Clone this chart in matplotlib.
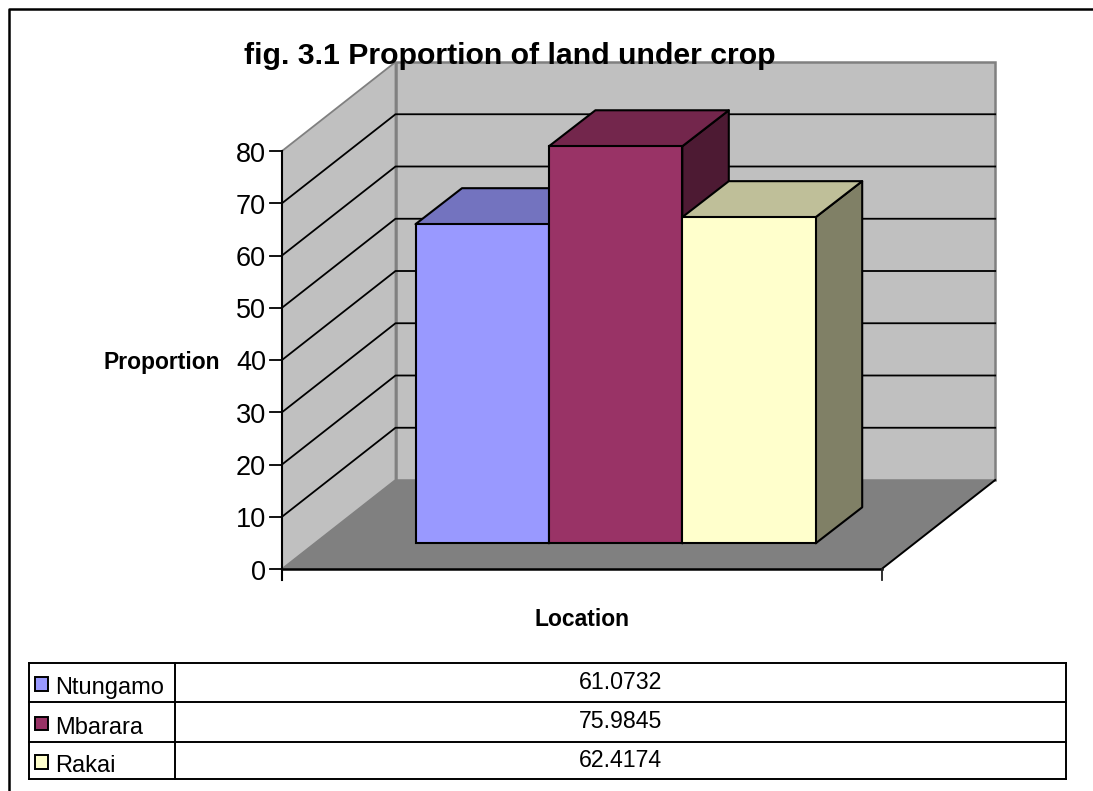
import matplotlib
matplotlib.use('Agg')
import matplotlib.pyplot as plt
from matplotlib.patches import Polygon, Rectangle

locations = ['Ntungamo', 'Mbarara', 'Rakai']
values = [61.0732, 75.9845, 62.4174]
value_labels = ['61.0732', '75.9845', '62.4174']
yticks = [0, 10, 20, 30, 40, 50, 60, 70, 80]

front_colors = ['#9999FF', '#993366', '#FFFFCC']
top_colors = ['#7373BF', '#73264C', '#BFBF99']
side_colors = ['#4D4D80', '#4D1A33', '#808066']

W, H = 1093, 791
Y0_PX = 569.0      # pixel row of value 0 on the front wall edge
PX_PER_UNIT = 5.225

plt.rcParams['font.family'] = ['Liberation Sans', 'DejaVu Sans']

fig = plt.figure(figsize=(W / 100, H / 100), dpi=100)
ax = fig.add_axes([0, 0, 1, 1])
ax.set_xlim(0, W)
ax.set_ylim((Y0_PX - H) / PX_PER_UNIT, Y0_PX / PX_PER_UNIT)
ax.axis('off')


def u(dy_px):
    # pixel distance to value units
    return dy_px / PX_PER_UNIT


def py(row):
    # pixel row to value units
    return (Y0_PX - row) / PX_PER_UNIT


# outer chart frame, only top and left fall inside the picture
ax.plot([9, 9, W + 5], [py(H + 5), py(8.5), py(8.5)], color='black', lw=1.8, zorder=1)

# 3d box
x0, x1 = 282, 881.7
depth_x, depth_y = 113.5, u(89)
ymax = yticks[-1]
gray_wall = '#C0C0C0'
gray_floor = '#808080'

ax.add_patch(Polygon([(x0, 0), (x0 + depth_x, depth_y), (x0 + depth_x, ymax + depth_y), (x0, ymax)],
                     fc=gray_wall, ec=gray_floor, lw=1.3, zorder=2))
ax.add_patch(Rectangle((x0 + depth_x, depth_y), x1 - x0, ymax, fc=gray_wall, ec=gray_floor, lw=1.8, zorder=2))
ax.add_patch(Polygon([(x0, 0), (x1, 0), (x1 + depth_x, depth_y), (x0 + depth_x, depth_y)],
                     fc=gray_floor, ec='none', zorder=3))

# gridlines on both walls
for t in yticks[1:-1]:
    ax.plot([x0, x0 + depth_x, x1 + depth_x], [t, t + depth_y, t + depth_y], color='black', lw=1.3, zorder=4)

# floor edges and axes
ax.plot([x1, x1 + depth_x], [0, depth_y], color='black', lw=1.4, zorder=5)
ax.plot([x0, x1], [0, 0], color='black', lw=1.8, zorder=5)
ax.plot([x0, x0], [py(580), ymax], color='black', lw=1.5, zorder=5)
ax.plot([x1, x1], [py(580), 0], color='#202020', lw=1.3, zorder=5)
for t in yticks:
    ax.plot([x0 - 12, x0], [t, t], color='black', lw=1.3, zorder=5)
    ax.text(x0 - 16, t - u(3.5), str(t), ha='right', va='center', fontsize=19.5, zorder=6)

# bars, back to front
bar_left = 415.5
bar_w = 133.4
bar_dx, bar_dy = 46.5, u(36)
bar_base = py(543.3)
for i, v in enumerate(values):
    l = bar_left + i * bar_w
    r = l + bar_w
    top = bar_base + v
    z = 7 + i
    ax.add_patch(Polygon([(r, bar_base), (r + bar_dx, bar_base + bar_dy), (r + bar_dx, top + bar_dy), (r, top)],
                         fc=side_colors[i], ec='black', lw=1.5, joinstyle='round', zorder=z))
    ax.add_patch(Polygon([(l, top), (r, top), (r + bar_dx, top + bar_dy), (l + bar_dx, top + bar_dy)],
                         fc=top_colors[i], ec='black', lw=1.5, joinstyle='round', zorder=z))
    ax.add_patch(Rectangle((l, bar_base), bar_w, v, fc=front_colors[i], ec='black', lw=1.5, zorder=z))

# titles
ax.text(510, py(56.5), 'fig. 3.1 Proportion of land under crop', ha='center', va='center',
        fontsize=21.8, fontweight='bold', zorder=12)
ax.text(162, py(362), 'Proportion', ha='center', va='center', fontsize=16.5, fontweight='bold', zorder=12)
ax.text(582, py(620), 'Location', ha='center', va='center', fontsize=16.5, fontweight='bold', zorder=12)

# data table
tbl_l, tbl_m, tbl_r = 29, 175, 1066
row_tops = [663, 701.7, 741.7, 779]
for row in row_tops:
    ax.plot([tbl_l, tbl_r], [py(row), py(row)], color='black', lw=1.4, zorder=12)
for col in [tbl_l, tbl_m, tbl_r]:
    ax.plot([col, col], [py(row_tops[0]), py(row_tops[-1])], color='black', lw=1.4, zorder=12)
for i, name in enumerate(locations):
    mid = (row_tops[i] + row_tops[i + 1]) / 2
    ax.add_patch(Rectangle((35, py(mid + 8.5)), 12.5, u(13.5), fc=front_colors[i], ec='black', lw=1.4, zorder=13))
    ax.text(55, py(mid + 6), name, ha='left', va='center', fontsize=17, zorder=13)
    ax.text((tbl_m + tbl_r) / 2, py(mid), value_labels[i], ha='center', va='center', fontsize=16.7, zorder=13)

fig.savefig('out.png', dpi=100)
